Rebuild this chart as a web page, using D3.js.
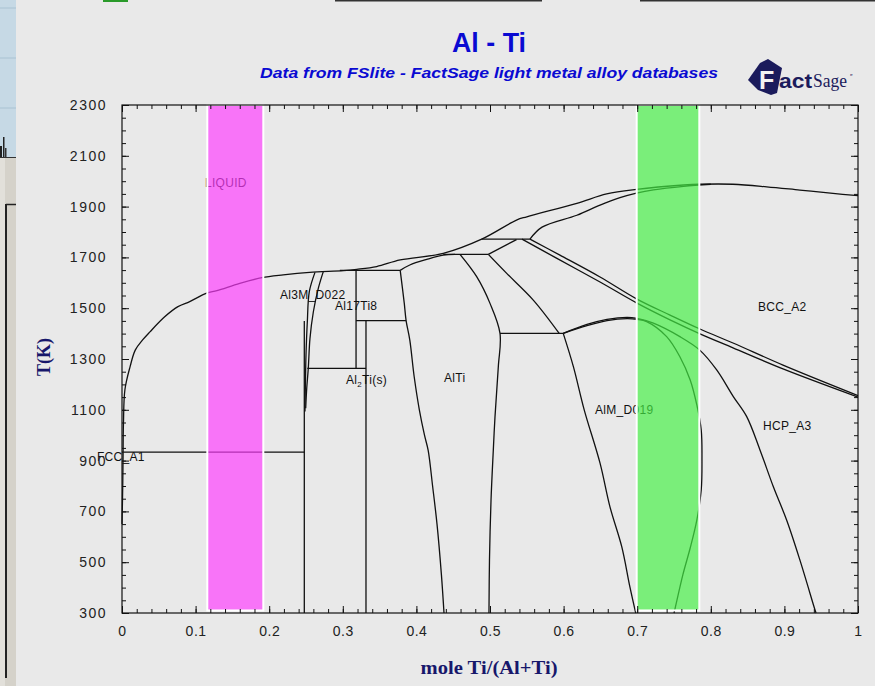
<!DOCTYPE html>
<html>
<head>
<meta charset="utf-8">
<script src="https://cdn.jsdelivr.net/npm/d3@7"></script>
<style>
body { margin:0; background:#e9e9e9; }
svg { display:block; }
.tick text { font-family:"Liberation Sans", Arial, sans-serif; font-size:14px; fill:#222; }
.phase { fill:none; stroke:#111; stroke-width:1.3; }
.lbl { font-family:"Liberation Sans", Arial, sans-serif; font-size:12px; fill:#111; letter-spacing:0.3px; }
</style>
</head>
<body>
<svg width="875" height="686"></svg>
<script>
// axis ticks
var xTicks = [0,0.1,0.2,0.3,0.4,0.5,0.6,0.7,0.8,0.9,1];
var xTickLabels = ["0","0.1","0.2","0.3","0.4","0.5","0.6","0.7","0.8","0.9","1"];
var tTicks = [300,500,700,900,1100,1300,1500,1700,1900,2100,2300];

// phase boundaries, [mole Ti/(Al+Ti), T(K)]
var liquidus = [[0.0015,933],[0.002,1050],[0.004,1180],[0.011,1270],[0.018,1335],[0.028,1375],[0.038,1407],[0.058,1466],[0.076,1506],[0.092,1526],[0.115,1559],[0.129,1569],[0.16,1598],[0.19,1620],[0.219,1631],[0.255,1641],[0.301,1648],[0.319,1653],[0.346,1664],[0.378,1690],[0.4365,1716],[0.4887,1772],[0.536,1847],[0.55,1860],[0.618,1913],[0.6585,1950],[0.699,1968],[0.763,1985],[0.785,1988],[0.83,1988],[0.876,1978],[0.921,1965],[0.966,1952],[1.0,1943]];
var fccSolvus = [[0.0015,933],[0.001,800],[0,650]];
var eutectic933 = [[0,933],[0.2477,933]];
var al3tiLine = [[0.2477,300],[0.2477,1450]];
var al3tiLeft = [[0.2622,1641],[0.2545,1565],[0.2518,1447],[0.25,1316],[0.2491,1185],[0.2486,1093]];
var al3tiRight = [[0.2735,1644],[0.2667,1578],[0.26,1486],[0.2554,1381],[0.2531,1263],[0.251,1185],[0.2496,1106]];
var peritectic1649 = [[0.296,1649],[0.378,1649]];
var al17ti8Left = [[0.318,1649],[0.318,1263]];
var h1451 = [[0.318,1451],[0.386,1451]];
var al2tiLine = [[0.3315,1451],[0.3315,300]];
var h1263 = [[0.2518,1263],[0.3315,1263]];
var alTiSolidus = [[0.378,1649],[0.391,1670],[0.414,1692],[0.4365,1709],[0.4525,1712]];
var alTiLeft = [[0.378,1649],[0.3835,1520],[0.386,1451],[0.391,1375],[0.397,1230],[0.404,1100],[0.411,1000],[0.416,940],[0.422,800],[0.428,650],[0.434,450],[0.4375,300]];
var peritectic1712 = [[0.4365,1712],[0.4977,1712]];
var link1712 = [[0.4977,1712],[0.536,1770]];
var peritectic1772 = [[0.4887,1772],[0.5543,1772]];
var bccSolidus = [[0.5543,1772],[0.5707,1819],[0.618,1866],[0.6495,1906],[0.6766,1935],[0.699,1953],[0.722,1966],[0.763,1980],[0.80,1988]];
var bccUpper = [[0.5543,1772],[0.595,1709],[0.6495,1623],[0.6997,1536],[0.7446,1473],[0.7853,1418],[0.8302,1363],[0.8981,1276],[1.0,1156]];
var bccLower = [[0.5435,1772],[0.5897,1698],[0.6495,1603],[0.6997,1520],[0.7446,1454],[0.7853,1399],[0.8302,1344],[0.8981,1261],[1.0,1150]];
var alTiRight = [[0.4592,1712],[0.4819,1624],[0.5,1519],[0.5136,1401],[0.5113,1270],[0.5068,1073],[0.5045,942],[0.5014,745],[0.4993,509],[0.4986,300]];
var lineE = [[0.4977,1712],[0.5227,1637],[0.5588,1532],[0.594,1401]];
var peritectoid1401 = [[0.5136,1401],[0.5995,1401]];
var d019Left = [[0.5995,1401],[0.6133,1270],[0.628,1100],[0.6495,890],[0.663,718],[0.679,561],[0.690,404],[0.698,300]];
var domeOuter = [[0.5995,1401],[0.6318,1436],[0.659,1456],[0.6862,1464],[0.6997,1460],[0.722,1441],[0.758,1388],[0.785,1335],[0.808,1257],[0.8306,1152],[0.8488,1073],[0.8668,942],[0.885,797],[0.903,666],[0.921,509],[0.9416,312],[0.943,300]];
var domeInner = [[0.5995,1401],[0.6318,1431],[0.659,1451],[0.6862,1459],[0.6997,1456],[0.7129,1447],[0.74,1388],[0.758,1309],[0.772,1217],[0.781,1119],[0.787,1020],[0.788,902],[0.787,784],[0.781,666],[0.772,556],[0.762,450],[0.751,312],[0.750,300]];

// phase labels: text, mole fraction at start, T
var labelNames = ["LIQUID","Al3M_D022","Al17Ti8","Al2Ti(s)","AlTi","AlM_D019","BCC_A2","HCP_A3","FCC_A1"];
var labelX = [0.1128,0.2147,0.2894,0.3043,0.4375,0.6427,0.8641,0.8709,-0.034];
var labelT = [1993,1552,1509,1217,1225,1099,1505,1036,914];

// highlighted composition bands
var bandX0 = [0.1159,0.6993];
var bandX1 = [0.192,0.7844];
var bandTop = 2300, bandBottom = 310;

var svg = d3.select("svg");

// window chrome at the left edge
var chrome = svg.append("g");
chrome.append("rect").attr("x",0).attr("y",0).attr("width",16).attr("height",158).attr("fill","#c6d9e5");
[8,58,108].forEach(function(v){
  chrome.append("line").attr("x1",0).attr("x2",16).attr("y1",v).attr("y2",v).attr("stroke","#a9c2d2");
});
chrome.append("rect").attr("x",0).attr("y",146).attr("width",2).attr("height",11).attr("fill","#222");
chrome.append("rect").attr("x",3).attr("y",137).attr("width",1.5).attr("height",20).attr("fill","#222");
chrome.append("rect").attr("x",5).attr("y",148).attr("width",1.5).attr("height",9).attr("fill","#333");
chrome.append("line").attr("x1",0).attr("x2",16).attr("y1",157.5).attr("y2",157.5).attr("stroke","#333");
chrome.append("rect").attr("x",0).attr("y",158).attr("width",16).attr("height",528).attr("fill","#d5d2ca");
chrome.append("rect").attr("x",0).attr("y",158).attr("width",5).attr("height",528).attr("fill","#e2e0da");
chrome.append("line").attr("x1",6).attr("x2",16).attr("y1",204.5).attr("y2",204.5).attr("stroke","#222").attr("stroke-width",1.5);
chrome.append("line").attr("x1",6).attr("x2",6).attr("y1",204).attr("y2",678).attr("stroke","#222").attr("stroke-width",2);
// strip along the top edge
svg.append("rect").attr("x",103).attr("y",0).attr("width",25).attr("height",2).attr("fill","#2a9a2a");
svg.append("rect").attr("x",335).attr("y",0).attr("width",207).attr("height",1.5).attr("fill","#333");
svg.append("rect").attr("x",640).attr("y",0).attr("width",235).attr("height",1.5).attr("fill","#333");

var x = d3.scaleLinear().domain([0,1]).range([122,858]);
var y = d3.scaleLinear().domain([300,2300]).range([613,105]);

// titles
svg.append("text").attr("x",489).attr("y",52).attr("text-anchor","middle")
  .attr("font-family","Liberation Sans, Arial, sans-serif").attr("font-weight","bold")
  .attr("font-size",27).attr("fill","#0a0ad2").attr("textLength",74).attr("lengthAdjust","spacingAndGlyphs")
  .text("Al - Ti");
svg.append("text").attr("x",489).attr("y",78).attr("text-anchor","middle")
  .attr("font-family","Liberation Sans, Arial, sans-serif").attr("font-weight","bold").attr("font-style","italic")
  .attr("font-size",14).attr("fill","#0a0ad2").attr("textLength",458).attr("lengthAdjust","spacingAndGlyphs")
  .text("Data from FSlite - FactSage light metal alloy databases");

// FactSage logo
var logo = svg.append("g");
logo.append("path").attr("d","M748,80 L760,63 L768,59 L782,68 L777,93 L771,95 L758,90 Z").attr("fill","#1b1b5c");
logo.append("text").attr("x",759).attr("y",89).attr("font-family","Liberation Sans, Arial, sans-serif")
  .attr("font-weight","bold").attr("font-size",25).attr("fill","#f2f2f2").text("F");
logo.append("text").attr("x",779).attr("y",88).attr("font-family","Liberation Sans, Arial, sans-serif")
  .attr("font-weight","bold").attr("font-size",20).attr("fill","#1b1b5c").attr("textLength",33).attr("lengthAdjust","spacingAndGlyphs").text("act");
logo.append("text").attr("x",813).attr("y",87).attr("font-family","Liberation Serif, serif")
  .attr("font-size",19).attr("fill","#1b1b5c").attr("textLength",34).attr("lengthAdjust","spacingAndGlyphs").text("Sage");
logo.append("text").attr("x",850).attr("y",79).attr("font-family","Liberation Sans, Arial, sans-serif")
  .attr("font-size",7).attr("fill","#1b1b5c").text("\u2033");

// phase boundary lines
var phaseLines = [liquidus, fccSolvus, eutectic933, al3tiLine, al3tiLeft, al3tiRight, peritectic1649,
  al17ti8Left, h1451, al2tiLine, h1263, alTiSolidus, alTiLeft, peritectic1712, link1712, peritectic1772,
  bccSolidus, bccUpper, bccLower, alTiRight, lineE, peritectoid1401, d019Left, domeOuter, domeInner];

var line = d3.line()
  .x(function(d){ return x(d[0]); })
  .y(function(d){ return y(d[1]); })
  .curve(d3.curveCatmullRom.alpha(0.5));

svg.append("g").selectAll("path")
  .data(phaseLines)
  .enter().append("path")
  .attr("class","phase")
  .attr("d", line);

// phase labels
var lbls = svg.append("g");
labelNames.forEach(function(name, i){
  var t = lbls.append("text").attr("class","lbl")
    .attr("x", x(labelX[i])).attr("y", y(labelT[i])).attr("dy","0.35em");
  if (name === "Al2Ti(s)") {
    t.append("tspan").text("Al");
    t.append("tspan").attr("font-size",8).attr("dy",3).text("2");
    t.append("tspan").attr("dy",-3).text("Ti(s)");
  } else {
    t.text(name);
  }
});

// highlighted bands
var bandColors = ["#ff3dff","#45f045"];
svg.append("g").selectAll("rect")
  .data(bandX0)
  .enter().append("rect")
  .attr("x", function(d){ return x(d); })
  .attr("width", function(d,i){ return x(bandX1[i]) - x(d); })
  .attr("y", y(bandTop))
  .attr("height", y(bandBottom) - y(bandTop))
  .attr("fill", function(d,i){ return bandColors[i]; })
  .attr("fill-opacity", 0.68)
  .attr("stroke","#fff").attr("stroke-width",2);

// axes, ticks inward on all four sides
function clean(g){ g.select(".domain").remove(); g.selectAll(".tick line").attr("stroke","#111"); }

svg.append("g").attr("transform","translate(122,0)")
  .call(d3.axisLeft(y).tickValues(tTicks).tickFormat(d3.format("d")).tickSizeInner(-7).tickSizeOuter(0).tickPadding(15))
  .call(clean)
  .selectAll("text").attr("letter-spacing","1.5px");
svg.append("g").attr("transform","translate(122,0)")
  .call(d3.axisLeft(y).tickValues(y.ticks(40)).tickFormat("").tickSizeInner(-4).tickSizeOuter(0))
  .call(clean);
svg.append("g").attr("transform","translate(858,0)")
  .call(d3.axisRight(y).tickValues(tTicks).tickFormat("").tickSizeInner(-7).tickSizeOuter(0))
  .call(clean);
svg.append("g").attr("transform","translate(858,0)")
  .call(d3.axisRight(y).tickValues(y.ticks(40)).tickFormat("").tickSizeInner(-4).tickSizeOuter(0))
  .call(clean);

svg.append("g").attr("transform","translate(0,613)")
  .call(d3.axisBottom(x).tickValues(xTicks).tickFormat(function(d,i){ return xTickLabels[i]; }).tickSizeInner(-7).tickSizeOuter(0).tickPadding(13))
  .call(clean)
  .selectAll("text").attr("letter-spacing","0.5px");
svg.append("g").attr("transform","translate(0,613)")
  .call(d3.axisBottom(x).tickValues(x.ticks(40)).tickFormat("").tickSizeInner(-4).tickSizeOuter(0))
  .call(clean);
svg.append("g").attr("transform","translate(0,105)")
  .call(d3.axisTop(x).tickValues(xTicks).tickFormat("").tickSizeInner(-7).tickSizeOuter(0))
  .call(clean);
svg.append("g").attr("transform","translate(0,105)")
  .call(d3.axisTop(x).tickValues(x.ticks(40)).tickFormat("").tickSizeInner(-4).tickSizeOuter(0))
  .call(clean);

// frame
svg.append("rect").attr("x",122).attr("y",105).attr("width",736).attr("height",508)
  .attr("fill","none").attr("stroke","#111").attr("stroke-width",1.2);

// axis titles
svg.append("text").attr("transform","translate(50,357) rotate(-90)").attr("text-anchor","middle")
  .attr("font-family","Liberation Serif, Times New Roman, serif").attr("font-weight","bold")
  .attr("font-size",18).attr("fill","#17176b").text("T(K)");
svg.append("text").attr("x",489).attr("y",674).attr("text-anchor","middle")
  .attr("font-family","Liberation Serif, Times New Roman, serif").attr("font-weight","bold")
  .attr("font-size",18).attr("fill","#17176b").attr("textLength",137).attr("lengthAdjust","spacingAndGlyphs")
  .text("mole Ti/(Al+Ti)");
</script>
</body>
</html>
